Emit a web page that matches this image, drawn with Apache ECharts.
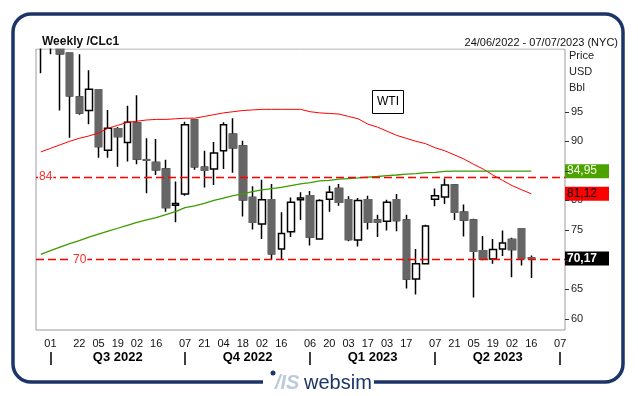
<!DOCTYPE html>
<html>
<head>
<meta charset="utf-8">
<script src="https://cdn.jsdelivr.net/npm/echarts@6/dist/echarts.min.js"></script>
<style>
  html, body { margin: 0; padding: 0; background: #fff; }
  #chart { width: 638px; height: 396px; }
</style>
</head>
<body>
<div id="chart"></div>
<script>
const weeks = [
  '2022-06-24', '2022-07-01', '2022-07-08', '2022-07-15', '2022-07-22', '2022-07-29',
  '2022-08-05', '2022-08-12', '2022-08-19', '2022-08-26', '2022-09-02', '2022-09-09',
  '2022-09-16', '2022-09-23', '2022-09-30', '2022-10-07', '2022-10-14', '2022-10-21',
  '2022-10-28', '2022-11-04', '2022-11-11', '2022-11-18', '2022-11-25', '2022-12-02',
  '2022-12-09', '2022-12-16', '2022-12-23', '2022-12-30', '2023-01-06', '2023-01-13',
  '2023-01-20', '2023-01-27', '2023-02-03', '2023-02-10', '2023-02-17', '2023-02-24',
  '2023-03-03', '2023-03-10', '2023-03-17', '2023-03-24', '2023-03-31', '2023-04-07',
  '2023-04-14', '2023-04-21', '2023-04-28', '2023-05-05', '2023-05-12', '2023-05-19',
  '2023-05-26', '2023-06-02', '2023-06-09', '2023-06-16', '2023-06-23', '2023-06-30',
  '2023-07-07'
];

const opens  = [109.6, 107.6, 108.4, 104.9, 97.5, 95.2, 98.7, 88.5, 92.1, 89.8, 93.1, 86.9, 86.4, 85.3,
  79.2, 81.1, 93.6, 85.6, 85.3, 88.4, 91.2, 89.2, 80.5, 76.0, 80.1, 71.8, 74.7, 80.1, 80.8, 73.5,
  80.2, 82.0, 80.1, 73.3, 80.1, 76.7, 76.5, 80.1, 76.7, 66.7, 69.3, 80.2, 80.6, 82.6, 78.0, 76.7,
  71.5, 70.1, 71.8, 73.4, 75.2, 70.3];
const closes = [107.6, 108.4, 104.8, 97.7, 94.8, 98.8, 89.1, 92.2, 90.8, 93.2, 87.0, 86.8, 85.2, 78.8,
  79.5, 92.8, 85.7, 85.1, 88.0, 92.8, 88.9, 80.1, 76.3, 80.1, 71.0, 74.4, 79.7, 80.4, 73.8, 80.0,
  81.4, 79.7, 73.4, 80.0, 76.3, 76.3, 79.7, 76.6, 66.7, 69.3, 75.7, 80.8, 82.6, 78.0, 76.7, 71.4,
  70.1, 71.7, 72.8, 71.7, 70.2, 70.17];
const lows   = [101.5, 104.7, 95.2, 90.6, 94.5, 92.9, 87.2, 87.2, 85.7, 86.6, 86.1, 81.2, 84.3, 78.1,
  76.3, 80.8, 85.2, 82.2, 82.6, 85.3, 84.7, 77.3, 75.1, 73.5, 70.0, 70.1, 73.8, 76.7, 72.4, 73.4,
  78.1, 79.1, 73.1, 72.2, 75.1, 73.8, 74.9, 74.8, 65.1, 64.1, 69.3, 79.0, 79.4, 76.7, 73.9, 63.6,
  69.9, 69.3, 70.6, 67.0, 69.0, 66.9];
const highs  = [110.9, 114.1, 111.5, 105.0, 104.7, 102.0, 98.8, 95.3, 92.4, 96.0, 97.8, 90.5, 90.4, 86.9,
  83.2, 93.3, 93.7, 88.4, 89.9, 93.2, 93.9, 90.1, 82.4, 83.5, 82.8, 78.0, 80.5, 81.4, 81.6, 80.2,
  82.5, 82.8, 80.7, 80.4, 80.8, 77.6, 80.1, 81.1, 77.6, 71.8, 75.9, 82.0, 83.7, 82.8, 79.3, 76.9,
  74.0, 73.5, 74.9, 73.7, 75.2, 70.7];

const maRed = [88.2, 88.8, 89.4, 90.0, 90.5, 90.9, 91.4, 92.2, 92.7, 93.2, 93.4, 93.6, 93.7, 93.7,
  93.8, 93.9, 93.9, 94.2, 94.5, 94.8, 95.0, 95.2, 95.3, 95.4, 95.4, 95.4, 95.4, 95.4, 95.0, 94.8,
  94.7, 94.6, 94.2, 93.8, 92.9, 92.4, 91.7, 91.0, 90.5, 90.0, 89.6, 88.9, 88.4, 87.7, 87.0, 86.1,
  85.3, 84.3, 83.4, 82.5, 81.8, 81.12];
const maGreen = [70.9, 71.5, 72.1, 72.7, 73.2, 73.8, 74.3, 74.8, 75.3, 75.8, 76.3, 76.7, 77.1, 77.6,
  78.1, 78.8, 79.1, 79.5, 80.0, 80.4, 80.8, 81.1, 81.5, 81.8, 82.0, 82.2, 82.5, 82.8, 83.0, 83.3,
  83.4, 83.6, 83.7, 83.8, 83.95, 84.05, 84.2, 84.3, 84.45, 84.55, 84.7, 84.75, 84.9, 84.95, 84.95,
  84.95, 84.95, 84.95, 84.95, 84.95, 84.95, 84.95];

const levels = [84, 70];
const priceTicks = [60, 65, 70, 75, 80, 85, 90, 95];
const tickDates = [
  '2022-07-01', '2022-07-22', '2022-08-05', '2022-08-19', '2022-09-02', '2022-09-16',
  '2022-10-07', '2022-10-21', '2022-11-04', '2022-11-18', '2022-12-02', '2022-12-16',
  '2023-01-06', '2023-01-20', '2023-02-03', '2023-02-17', '2023-03-03', '2023-03-17',
  '2023-04-07', '2023-04-21', '2023-05-05', '2023-05-19', '2023-06-02', '2023-06-16',
  '2023-07-07'
];
const quarterNames = ['Q3 2022', 'Q4 2022', 'Q1 2023', 'Q2 2023'];
const quarterStarts = ['2022-07-01', '2022-10-07', '2023-01-06', '2023-04-07', '2023-07-07'];

const FONT = '"Liberation Sans", Arial, sans-serif';
const NAVY = '#1b3567';
const RED = '#ff0000';

const candles = opens.map((o, i) => [o, closes[i], lows[i], highs[i]]);
// grey bodies drawn over the black-wicked candles so falling bodies have no black outline
const bodies = opens.map((o, i) => closes[i] < o ? [o, closes[i], closes[i], o] : '-');

const edgeIdx = quarterStarts.map(d => weeks.indexOf(d));
const midIdx = quarterNames.map((q, i) => (edgeIdx[i] + edgeIdx[i + 1]) / 2);

const fmt = v => v.toFixed(2).replace('.', ',');
const last = arr => arr[arr.length - 1];

function valueTag(value, bg, fg, bold) {
  return {
    silent: true,
    symbol: 'none',
    lineStyle: { color: 'rgba(0,0,0,0)', width: 0 },
    label: {
      show: true, position: 'end', distance: 0,
      formatter: fmt(value),
      backgroundColor: bg, color: fg,
      fontFamily: FONT, fontSize: 12, fontWeight: bold ? 'bold' : 'normal',
      width: 40, lineHeight: 14, padding: [0, 2], align: 'left'
    },
    data: [{ yAxis: value }]
  };
}

const txt = (x, y, text, font, fill) => ({ type: 'text', x, y, z: 60, style: { text, font, fill, verticalAlign: 'middle' } });

const staticGraphic = [
  // hides candle parts that rise above the plot top
  { type: 'rect', z: 50, shape: { x: 0, y: 0, width: 638, height: 48.5 }, style: { fill: '#fff' } },
  { type: 'rect', z: 51, shape: { x: 13, y: 14, width: 610, height: 368, r: 18 },
    style: { fill: 'none', stroke: NAVY, lineWidth: 3.5 } },
  txt(569, 56, 'Price', '11px ' + FONT, '#222'),
  txt(569, 72, 'USD', '11px ' + FONT, '#222'),
  txt(569, 88, 'Bbl', '11px ' + FONT, '#222'),
  { type: 'rect', z: 52, shape: { x: 263, y: 372, width: 111, height: 20 }, style: { fill: '#fff' } },
  { type: 'circle', z: 60, shape: { cx: 273, cy: 373, r: 2.5 }, style: { fill: NAVY } },
  txt(275, 383, '/IS', 'italic bold 20px ' + FONT, '#bccadb'),
  txt(304, 383, 'websim', '20px ' + FONT, NAVY)
];

const chart = echarts.init(document.getElementById('chart'), null, { renderer: 'canvas' });

const option = {
  animation: false,
  backgroundColor: '#fff',
  textStyle: { fontFamily: FONT },
  title: [
    { text: 'Weekly /CLc1', left: 37, top: 31, z: 70, textStyle: { fontSize: 12, fontWeight: 'bold', color: '#111', fontFamily: FONT } },
    { text: '24/06/2022 - 07/07/2023 (NYC)', right: 15, top: 32, z: 70, textStyle: { fontSize: 11, fontWeight: 'normal', color: '#111', fontFamily: FONT } },
    { text: 'WTI', left: 372, top: 90, padding: [6, 5], borderColor: '#000', borderWidth: 1,
      textStyle: { fontSize: 12, fontWeight: 'normal', color: '#000', fontFamily: FONT } }
  ],
  grid: { left: 36, right: 73, top: 49, bottom: 66, show: true, borderColor: '#9a9aa4', borderWidth: 1, backgroundColor: '#fff' },
  xAxis: [
    {
      type: 'category', data: weeks, boundaryGap: true, offset: 3,
      axisLine: { show: false },
      axisTick: { interval: (i, v) => tickDates.includes(v), alignWithLabel: true, length: 3, lineStyle: { color: '#222' } },
      axisLabel: { interval: (i, v) => tickDates.includes(v), formatter: v => v.slice(8), fontSize: 11, color: '#111', margin: 5, fontFamily: FONT },
      splitLine: { show: false }
    },
    {
      type: 'value', min: -0.5, max: weeks.length - 0.5, position: 'bottom', offset: 22,
      axisLine: { show: false }, splitLine: { show: false },
      axisTick: { show: true, customValues: edgeIdx, length: 13, lineStyle: { color: '#000', width: 1.5 } },
      axisLabel: { customValues: midIdx, formatter: v => quarterNames[midIdx.indexOf(v)] || '',
        fontSize: 13, fontWeight: 'bold', color: '#000', verticalAlign: 'middle', margin: 5, fontFamily: FONT }
    }
  ],
  yAxis: {
    type: 'value', position: 'right', min: 58.1, max: 105.6,
    axisLine: { show: false }, splitLine: { show: false },
    axisTick: { show: false },
    axisLabel: { customValues: priceTicks, fontSize: 11, color: '#222', margin: 6, fontFamily: FONT }
  },
  series: [
    {
      type: 'candlestick', data: candles, barWidth: 7, z: 2,
      itemStyle: { color: '#fff', color0: '#666', borderColor: '#000', borderColor0: '#000', borderWidth: 1.5 }
    },
    {
      type: 'candlestick', data: bodies, barWidth: 7, z: 3,
      itemStyle: { color: '#fff', color0: '#666', borderColor: '#000', borderColor0: '#666', borderWidth: 1.5 },
      markLine: valueTag(last(closes), '#000', '#fff', true)
    },
    {
      type: 'line', data: maRed, symbol: 'none', z: 4,
      lineStyle: { color: RED, width: 1 },
      markLine: valueTag(last(maRed), RED, '#000', false)
    },
    {
      type: 'line', data: maGreen, symbol: 'none', z: 4,
      lineStyle: { color: '#3c9c00', width: 1.3 },
      markLine: valueTag(last(maGreen), '#4ca300', '#f4ffe8', false)
    },
    {
      // horizontal reference levels
      type: 'line', data: [], z: 5,
      markLine: {
        silent: true, symbol: 'none',
        lineStyle: { color: RED, type: [8, 4], width: 1.3 },
        data: levels.map((lv, i) => ({
          yAxis: lv,
          lineStyle: { color: RED, type: [8, 4], width: 1.3 },
          label: {
            show: true, position: 'insideStartTop', distance: [i === 0 ? 2 : 36, -6],
            formatter: String(lv), color: '#ff2a2a', fontSize: 12, fontFamily: FONT,
            backgroundColor: '#fff', padding: [0, 1]
          }
        }))
      }
    }
  ],
  graphic: staticGraphic
};

chart.setOption(option);

// price ticks placed through the axis scale, just right of the plot edge
const xEdge = chart.convertToPixel({ xAxisIndex: 1 }, weeks.length - 0.5);
const tickMarks = priceTicks.map(v => {
  const y = Math.round(chart.convertToPixel({ yAxisIndex: 0 }, v)) + 0.5;
  return { type: 'line', z: 60, shape: { x1: xEdge, y1: y, x2: xEdge + 4, y2: y }, style: { stroke: '#333', lineWidth: 1 } };
});
chart.setOption({ graphic: staticGraphic.concat(tickMarks) });
</script>
</body>
</html>
